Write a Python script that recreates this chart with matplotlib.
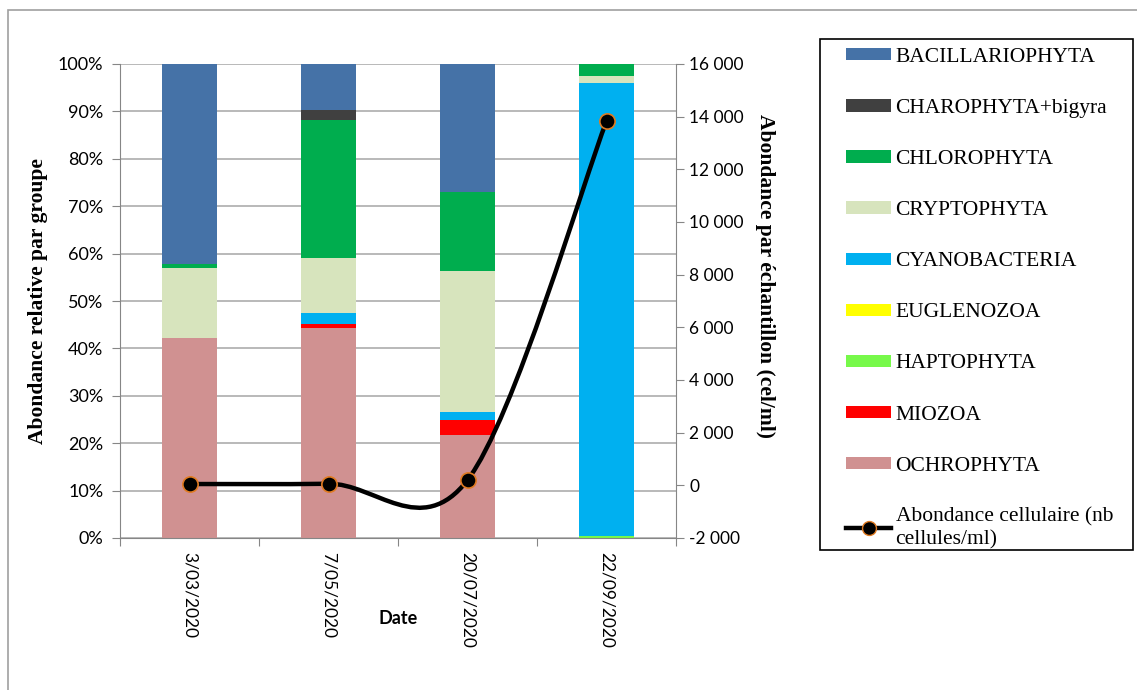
import numpy as np
import matplotlib
matplotlib.use("Agg")
import matplotlib.pyplot as plt
from matplotlib.path import Path
from matplotlib.patches import PathPatch, Rectangle, Patch
from matplotlib.lines import Line2D
from matplotlib.ticker import FuncFormatter, PercentFormatter

# Dates of sampling
dates = ["3/03/2020", "7/05/2020", "20/07/2020", "22/09/2020"]

# Relative abundance per group (%), from bottom of the stack to the top
ochrophyta = [42.2, 44.4, 21.7, 0.0]
miozoa = [0.0, 0.8, 3.2, 0.0]
haptophyta = [0.0, 0.0, 0.0, 0.5]
euglenozoa = [0.0, 0.0, 0.0, 0.0]
cyanobacteria = [0.0, 2.2, 1.6, 95.4]
cryptophyta = [14.8, 11.6, 29.9, 1.6]
chlorophyta = [0.9, 29.2, 16.6, 2.5]
charophyta = [0.0, 2.0, 0.0, 0.0]
bacillariophyta = [42.1, 9.8, 27.0, 0.0]

# Cell abundance (cells/ml)
abondance = [50, 60, 200, 13830]

groups = [
    ("OCHROPHYTA", ochrophyta, "#D09191"),
    ("MIOZOA", miozoa, "#FF0000"),
    ("HAPTOPHYTA", haptophyta, "#77F94A"),
    ("EUGLENOZOA", euglenozoa, "#FFFF00"),
    ("CYANOBACTERIA", cyanobacteria, "#00B0F0"),
    ("CRYPTOPHYTA", cryptophyta, "#D7E4BD"),
    ("CHLOROPHYTA", chlorophyta, "#00AD4E"),
    ("CHAROPHYTA+bigyra", charophyta, "#404040"),
    ("BACILLARIOPHYTA", bacillariophyta, "#4572A7"),
]

W, H = 1137, 690
fig = plt.figure(figsize=(W / 100, H / 100), dpi=100)

# Outer chart border (gray)
fig.patches.append(Rectangle((8 / W, -0.05), 1.1, 1.05 - 10 / H,
                             transform=fig.transFigure, fill=False,
                             edgecolor="#a0a0a0", linewidth=1.2))

ax1 = fig.add_axes([120 / W, (H - 538) / H, 556 / W, 474 / H])
x = np.arange(len(dates))
bottom = np.zeros(len(dates))
handles = []
for name, vals, col in groups:
    vals = np.array(vals)
    ax1.bar(x, vals, 0.4, bottom=bottom, color=col, zorder=2)
    bottom += vals
    handles.append(Patch(facecolor=col, label=name))

ax1.set_xlim(-0.5, 3.5)
ax1.set_ylim(0, 100)
ax1.set_yticks(np.arange(0, 101, 10))
ax1.yaxis.set_major_formatter(PercentFormatter(decimals=0))
ax1.set_axisbelow(True)
ax1.grid(axis="y", color="#a6a6a6", linewidth=1.1, zorder=0)

ax1.set_xticks(np.arange(-0.5, 4, 1))
ax1.set_xticklabels([])
ax1.set_xticks(x, minor=True)
ax1.set_xticklabels(dates, minor=True, rotation=270, fontfamily="Lato",
                    fontsize=12.5, va="top")
ax1.tick_params(axis="x", which="minor", length=0, pad=10)
ax1.tick_params(axis="x", which="major", length=6, color="#868686")
ax1.tick_params(axis="y", length=6, color="#868686", labelsize=13, pad=6)
for lab in ax1.get_yticklabels():
    lab.set_fontfamily("Lato")

for s in ["top", "right"]:
    ax1.spines[s].set_visible(False)
for s in ["left", "bottom"]:
    ax1.spines[s].set_color("#868686")

ax1.set_ylabel("Abondance relative par groupe", fontfamily="Liberation Serif",
               fontweight="bold", fontsize=15.5)
ax1.yaxis.set_label_coords(-0.13, 0.5)
ax1.set_xlabel("Date", fontfamily="Lato", fontweight="bold", fontsize=13)
ax1.xaxis.set_label_coords(0.5, -0.152)

# Secondary axis: cell abundance with smoothed line
ax2 = ax1.twinx()
ax2.set_ylim(-2000, 16000)
ax2.set_yticks(np.arange(-2000, 16001, 2000))
ax2.yaxis.set_major_formatter(
    FuncFormatter(lambda v, p: f"{int(v):,}".replace(",", " ")))
ax2.tick_params(axis="y", length=6, color="#868686", labelsize=12.5)
for lab in ax2.get_yticklabels():
    lab.set_fontfamily("Lato")
for s in ["top", "left", "bottom"]:
    ax2.spines[s].set_visible(False)
ax2.spines["right"].set_color("#868686")
ax2.set_ylabel("Abondance par échantillon (cel/ml)", rotation=270,
               fontfamily="Liberation Serif", fontweight="bold",
               fontsize=15.5, va="center", ha="center")
ax2.yaxis.set_label_coords(1.16, 0.553)

# Catmull-Rom style smoothing (like Excel's smoothed line) via Bezier path
pts = np.column_stack([x, abondance]).astype(float)
verts = [pts[0]]
codes = [Path.MOVETO]
n = len(pts)
for i in range(n - 1):
    p0 = pts[max(i - 1, 0)]
    p1 = pts[i]
    p2 = pts[i + 1]
    p3 = pts[min(i + 2, n - 1)]
    verts += [p1 + (p2 - p0) / 6, p2 - (p3 - p1) / 6, p2]
    codes += [Path.CURVE4] * 3
ax2.add_patch(PathPatch(Path(verts, codes), fill=False, edgecolor="black",
                        linewidth=3.2, zorder=3))
ax2.plot(x, abondance, linestyle="none", marker="o", markersize=11,
         markerfacecolor="black", markeredgecolor="#E07B22",
         markeredgewidth=1.2, zorder=4)

# Legend: frame drawn separately, entries placed inside
fig.patches.append(Rectangle((820 / W, 1 - 550 / H), 313 / W, 511 / H,
                             transform=fig.transFigure, fill=False,
                             edgecolor="black", linewidth=1.2))
handles = handles[::-1]
handles.append(Line2D([], [], color="black", linewidth=3.2, marker="o",
                      markersize=10, markerfacecolor="black",
                      markeredgecolor="#E07B22",
                      label="Abondance cellulaire (nb\ncellules/ml)"))
leg = fig.legend(handles=handles, loc="upper left",
                 bbox_to_anchor=(846 / W, 1 - 48 / H),
                 prop={"family": "Liberation Serif", "size": 15.5},
                 frameon=False, handlelength=2.1, handleheight=0.5,
                 handletextpad=0.2, labelspacing=1.49, borderpad=0,
                 borderaxespad=0)

fig.savefig("out.png", dpi=100)
